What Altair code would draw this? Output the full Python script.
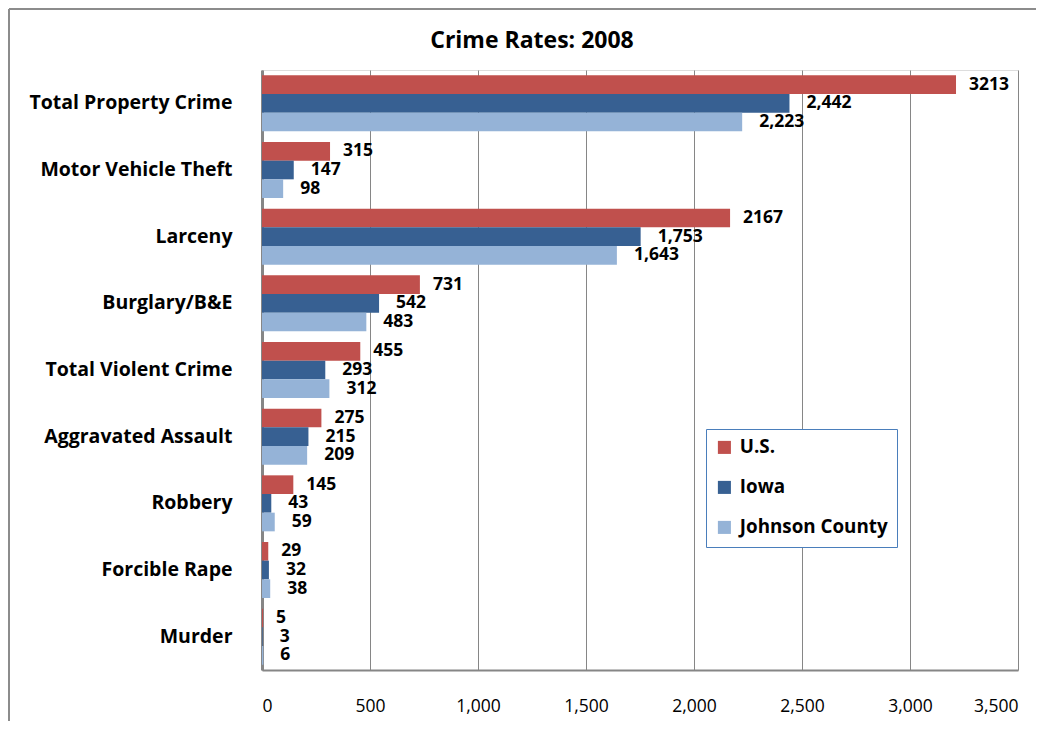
import altair as alt
import pandas as pd

categories = ["Total Property Crime", "Motor Vehicle Theft", "Larceny", "Burglary/B&E",
              "Total Violent Crime", "Aggravated Assault", "Robbery", "Forcible Rape", "Murder"]
series = ["U.S.", "Iowa", "Johnson County"]
us_values = [3213, 315, 2167, 731, 455, 275, 145, 29, 5]
iowa_values = [2442, 147, 1753, 542, 293, 215, 43, 32, 3]
jc_values = [2223, 98, 1643, 483, 312, 209, 59, 38, 6]
us_labels = ["3213", "315", "2167", "731", "455", "275", "145", "29", "5"]
iowa_labels = ["2,442", "147", "1,753", "542", "293", "215", "43", "32", "3"]
jc_labels = ["2,223", "98", "1,643", "483", "312", "209", "59", "38", "6"]
colors = ["#C0504D", "#376092", "#95B3D7"]
x_ticks = [0, 500, 1000, 1500, 2000, 2500, 3000, 3500]

rows = []
for s, vals, labs in zip(series, [us_values, iowa_values, jc_values], [us_labels, iowa_labels, jc_labels]):
    for c, v, l in zip(categories, vals, labs):
        rows.append({"category": c, "series": s, "value": v, "label": l})
df = pd.DataFrame(rows)

FONT = "Open Sans"
W, H = 756, 600

y_enc = alt.Y("category:N", sort=categories, title=None,
              scale=alt.Scale(paddingInner=0.16, paddingOuter=0.08),
              axis=alt.Axis(labelFont=FONT, labelFontWeight="bold", labelFontSize=19.5,
                            labelColor="black", labelPadding=30, ticks=False,
                            domainColor="#868686", domainWidth=3, labelLimit=300))
yoff = alt.YOffset("series:N", sort=series)
x_enc = alt.X("value:Q", title=None,
              scale=alt.Scale(domain=[0, 3500], nice=False),
              axis=alt.Axis(values=x_ticks, format=",d", labelFont=FONT, labelFontSize=17.5,
                            labelColor="black", labelPadding=27, ticks=False,
                            domainColor="#868686", domainWidth=2,
                            gridColor="#868686", gridWidth=1))

base = alt.Chart(df)

bars = base.mark_bar().encode(
    y=y_enc, yOffset=yoff, x=x_enc,
    color=alt.Color("series:N", sort=series,
                    scale=alt.Scale(domain=series, range=colors),
                    legend=alt.Legend(title=None, orient="none", legendX=444, legendY=359,
                                      strokeColor="#4A7EBB", fillColor="white",
                                      padding=9, rowPadding=20, symbolType="square",
                                      symbolSize=170, symbolStrokeWidth=0,
                                      labelFont=FONT, labelFontWeight="bold", labelFontSize=18.8,
                                      labelColor="black", labelOffset=6, labelLimit=300)),
)

label_style = dict(align="left", baseline="middle", font=FONT,
                   fontWeight="bold", fontSize=17.5, color="black")
labels_us = base.transform_filter(alt.datum.series == "U.S.").mark_text(dx=13, **label_style).encode(
    y=alt.Y("category:N", sort=categories), yOffset=yoff, x="value:Q", text="label:N"
)
labels_other = base.transform_filter(alt.datum.series != "U.S.").mark_text(dx=17, **label_style).encode(
    y=alt.Y("category:N", sort=categories), yOffset=yoff, x="value:Q", text="label:N"
)

title = alt.Chart(pd.DataFrame({"t": ["Crime Rates: 2008"]})).mark_text(
    font=FONT, fontWeight="bold", fontSize=23, color="black", align="center", baseline="middle"
).encode(x=alt.value(270), y=alt.value(-29), text="t:N")

frame_left = alt.Chart(pd.DataFrame({"a": [0]})).mark_rule(color="#8C8C8C", strokeWidth=2).encode(
    x=alt.value(-253), y=alt.value(-61), y2=alt.value(651))
frame_top = alt.Chart(pd.DataFrame({"a": [0]})).mark_rule(color="#8C8C8C", strokeWidth=2).encode(
    x=alt.value(-253), x2=alt.value(774), y=alt.value(-61))

chart = alt.layer(frame_left, frame_top, bars, labels_us, labels_other, title).properties(
    width=W, height=H, padding=0
).configure_view(stroke=None).configure(background="white")

chart.save("out.html", embed_options={"renderer": "svg", "actions": False})
